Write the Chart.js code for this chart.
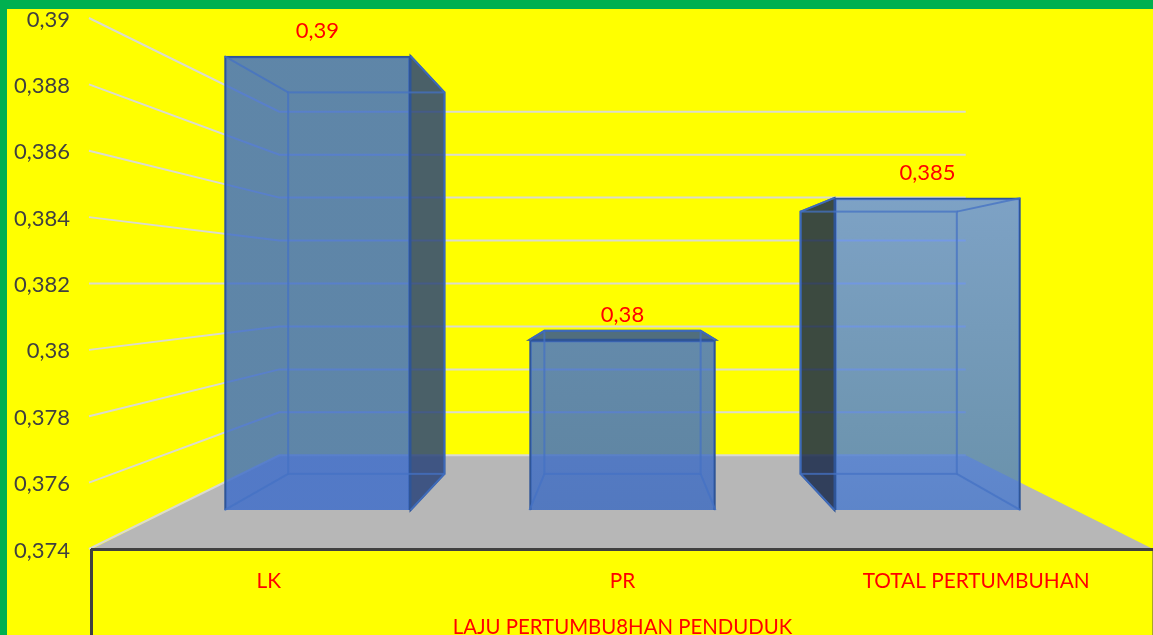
<!DOCTYPE html>
<html>
<head>
<meta charset="utf-8">
<script src="https://cdn.jsdelivr.net/npm/chart.js@4"></script>
<style>
    html, body { margin: 0; height: 100%; background: #00B050; overflow: hidden; }
    #wrap { position: absolute; left: 7px; top: 9px; width: 1146px; height: 626px; background: #FFFF00; }
</style>
</head>
<body>
<div id="wrap"><canvas id="chart" width="1146" height="626"></canvas></div>
<script>
"use strict";

const categories = ["LK", "PR", "TOTAL PERTUMBUHAN"];
const growth = [0.39, 0.38, 0.385];
const growthLabels = ["0,39", "0,38", "0,385"];
const yTicks = [0.374, 0.376, 0.378, 0.38, 0.382, 0.384, 0.386, 0.388, 0.39];
const yTickLabels = ["0,374", "0,376", "0,378", "0,38", "0,382", "0,384", "0,386", "0,388", "0,39"];
const axisTitle = "LAJU PERTUMBU8HAN PENDUDUK";

const fontName = "Lato, 'Open Sans', sans-serif";
const red = "#FF0000";
const backDepth = 0.84;   // bar back face seen from the centre of the plot
const wallDepth = 0.647;  // back wall seen from the centre of the plot

const frontTop = ["rgba(62,109,202,.83)", "rgba(68,114,205,.83)", "rgba(99,143,237,.83)"];
const frontBottom = ["rgba(62,109,202,.83)", "rgba(62,108,193,.83)", "rgba(75,123,205,.83)"];
const sideFill = ["rgba(42,68,122,.85)", "rgba(50,85,147,.85)", "rgba(26,42,75,.85)"];

function toBack(area, px, py, k) {
    let cx = (area.left + area.right) / 2;
    let cy = (area.top + area.bottom) / 2;
    return { x: cx + k * (px - cx), y: cy + k * (py - cy) };
}

function poly(ctx, pts) {
    ctx.beginPath();
    pts.forEach(function (p, i) {
        if (i === 0) ctx.moveTo(p.x, p.y); else ctx.lineTo(p.x, p.y);
    });
    ctx.closePath();
}

function barBox(area, bar) {
    let left = bar.x - bar.width / 2;
    let right = bar.x + bar.width / 2;
    let a = toBack(area, left, bar.y, backDepth);
    let b = toBack(area, right, bar.base, backDepth);
    return { left: left, right: right, top: bar.y, bottom: bar.base, bl: a.x, bt: a.y, br: b.x, bb: b.y };
}

const box3d = {
    id: "box3d",
    afterUpdate: function (chart) {
        // the y labels sit a little under their grid lines
        chart.scales.y.getLabelItems().forEach(function (item) {
            item.options.translation[1] += 1.5;
        });
    },
    beforeDraw: function (chart) {
        let ctx = chart.ctx, area = chart.chartArea, y = chart.scales.y;
        ctx.save();

        // floor
        let fl = toBack(area, area.left, area.bottom, wallDepth);
        let fr = toBack(area, area.right, area.bottom, wallDepth);
        poly(ctx, [{ x: area.left, y: area.bottom }, { x: area.right, y: area.bottom }, fr, fl]);
        ctx.fillStyle = "#B7B7B7";
        ctx.fill();

        // left wall and back wall grid
        ctx.strokeStyle = "rgba(217,217,217,.95)";
        ctx.lineWidth = 2;
        yTicks.forEach(function (v) {
            let py = y.getPixelForValue(v);
            let left = toBack(area, area.left, py, wallDepth);
            let right = toBack(area, area.right, py, wallDepth);
            ctx.beginPath();
            ctx.moveTo(area.left - 3, py);
            ctx.lineTo(left.x, left.y);
            ctx.lineTo(right.x, right.y);
            ctx.stroke();
        });

        // stubs below the axis
        ctx.strokeStyle = "#404040";
        ctx.lineWidth = 3;
        ctx.beginPath();
        ctx.moveTo(area.left - 0.5, area.bottom);
        ctx.lineTo(area.left - 0.5, chart.height);
        ctx.stroke();
        ctx.strokeStyle = "rgba(64,64,64,.45)";
        ctx.lineWidth = 1;
        ctx.beginPath();
        ctx.moveTo(area.right - 0.5, area.bottom);
        ctx.lineTo(area.right - 0.5, chart.height);
        ctx.stroke();
        ctx.restore();
    },
    beforeDatasetsDraw: function (chart) {
        let ctx = chart.ctx, area = chart.chartArea;
        ctx.save();
        ctx.strokeStyle = "#2F5597";
        ctx.lineWidth = 2;
        chart.getDatasetMeta(0).data.forEach(function (bar, i) {
            let b = barBox(area, bar);
            let face = null;
            if (b.br > b.right) {
                face = [{ x: b.right, y: b.top }, { x: b.br, y: b.bt }, { x: b.br, y: b.bb }, { x: b.right, y: b.bottom }];
            } else if (b.bl < b.left) {
                face = [{ x: b.left, y: b.top }, { x: b.bl, y: b.bt }, { x: b.bl, y: b.bb }, { x: b.left, y: b.bottom }];
            } else if (b.bt < b.top) {
                face = [{ x: b.left, y: b.top }, { x: b.bl, y: b.bt }, { x: b.br, y: b.bt }, { x: b.right, y: b.top }];
            }
            if (face) {
                poly(ctx, face);
                ctx.fillStyle = sideFill[i];
                ctx.fill();
                ctx.stroke();
            }
        });
        ctx.restore();
    },
    afterDatasetsDraw: function (chart) {
        let ctx = chart.ctx, area = chart.chartArea;
        ctx.save();
        chart.getDatasetMeta(0).data.forEach(function (bar, i) {
            let b = barBox(area, bar);

            // edges of the box seen through the front
            ctx.strokeStyle = "rgba(68,114,196,.75)";
            ctx.lineWidth = 2;
            ctx.strokeRect(b.bl, b.bt, b.br - b.bl, b.bb - b.bt);
            ctx.beginPath();
            ctx.moveTo(b.left, b.top); ctx.lineTo(b.bl, b.bt);
            ctx.moveTo(b.right, b.top); ctx.lineTo(b.br, b.bt);
            ctx.moveTo(b.left, b.bottom); ctx.lineTo(b.bl, b.bb);
            ctx.moveTo(b.right, b.bottom); ctx.lineTo(b.br, b.bb);
            ctx.stroke();

            ctx.fillStyle = red;
            ctx.font = "22px " + fontName;
            ctx.textAlign = "center";
            ctx.textBaseline = "middle";
            ctx.fillText(growthLabels[i], bar.x, bar.y - 25);
        });
        ctx.restore();
    }
};

let canvas = document.getElementById("chart");

let barData = {
    labels: categories,
    datasets: [{
        label: axisTitle,
        data: growth.map(function (v, i) { return { x: i, y: v }; }),
        xAxisID: "x1",
        yAxisID: "y1",
        base: yTicks[0],
        barThickness: 186,
        borderColor: "#2F5597",
        borderWidth: 2,
        clip: false,
        backgroundColor: function (c) {
            let i = c.dataIndex;
            if (i === undefined || !c.chart.chartArea) return frontTop[0];
            let y1 = c.chart.scales.y1;
            let g = c.chart.ctx.createLinearGradient(0, y1.getPixelForValue(growth[i]), 0, y1.getPixelForValue(yTicks[0]));
            g.addColorStop(0, frontTop[i]);
            g.addColorStop(1, frontBottom[i]);
            return g;
        }
    }]
};

let barOptions = {
    responsive: false,
    animation: false,
    layout: { padding: { top: 9, left: 0, right: 0, bottom: 0 } },
    plugins: { legend: { display: false }, tooltip: { enabled: false } },
    scales: {
        x: {
            type: "category",
            offset: true,
            grid: { display: false, drawTicks: false },
            border: { display: true, color: "#404040", width: 3 },
            ticks: { color: red, font: { family: fontName, size: 20.8 }, padding: 20, maxRotation: 0, autoSkip: false },
            title: {
                display: true,
                text: axisTitle,
                color: red,
                font: { family: fontName, size: 20.4 },
                padding: { top: 0, bottom: -5 }
            },
            afterFit: function (s) { s.height = 86; s.paddingLeft = 0; s.paddingRight = 0; }
        },
        y: {
            type: "linear",
            min: yTicks[0],
            max: yTicks[yTicks.length - 1],
            grid: { display: false, drawTicks: false },
            border: { display: false },
            afterBuildTicks: function (s) { s.ticks = yTicks.map(function (v) { return { value: v }; }); },
            ticks: {
                color: "#404040",
                font: { family: fontName, size: 22 },
                padding: 22,
                callback: function (v, i) { return yTickLabels[i]; }
            },
            afterFit: function (s) { s.width = 85; s.paddingTop = 0; s.paddingBottom = 0; }
        },
        // the bars stand nearer than the axes, so they get their own narrower scales
        x1: { type: "linear", display: false, offset: false, min: -0.7393, max: 2.7393, grid: { offset: false } },
        y1: { type: "linear", display: false, min: 0.37263, max: 0.39134 }
    }
};

new Chart(canvas.getContext("2d"), {
    type: "bar",
    data: barData,
    options: barOptions,
    plugins: [box3d]
});
</script>
</body>
</html>
